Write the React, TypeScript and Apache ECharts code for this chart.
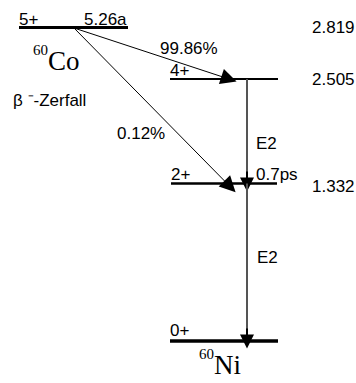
import React, { useEffect, useRef } from "react";
import * as echarts from "echarts";

// ---- data: 60Co -> 60Ni decay scheme ----
const levelSpins = ["5+", "4+", "2+", "0+"];
const levelEnergies = ["2.819", "2.505", "1.332", ""];
const parentHalfLife = "5.26a";
const levelHalfLife = ["", "", "0.7ps", ""];
const betaIntensities = ["99.86%", "0.12%"];
const betaTargets = [1, 2];
const gammaTypes = ["E2", "E2"];
const gammaFrom = [1, 2];
const gammaTo = [2, 3];

// ---- schematic layout (diagram units) ----
const levelY = [27, 79, 183.5, 340.5];
const levelX1 = [19, 170, 171, 170];
const levelX2 = [128, 278, 277, 278];
const levelWidth = [3, 2, 2.5, 3.5];
const betaStart = [74, 28];
const betaTipX = [229, 230];
const betaTipDy = [0, 3];
const gammaX = 247;
const gammaHead = 14;

const SANS = "'Liberation Sans', Arial, Helvetica, sans-serif";
const SERIF = "'Liberation Serif', 'Times New Roman', serif";

export default function App() {
  const ref = useRef<HTMLDivElement>(null);
  useEffect(() => {
    document.body.style.margin = "0";
    const chart = echarts.init(ref.current!, undefined, { renderer: "svg" });

    const levelData = levelY.map((y, i) => ({
      coords: [
        [levelX1[i], y],
        [levelX2[i], y],
      ],
      lineStyle: { width: levelWidth[i], color: "#000", opacity: 1 },
    }));
    const betaData = betaTargets.map((t, i) => ({
      coords: [betaStart, [betaTipX[i], levelY[t] + betaTipDy[i]]],
    }));
    const gammaShaft = gammaFrom.map((f, i) => ({
      coords: [
        [gammaX, levelY[f]],
        [gammaX, levelY[gammaTo[i]] + 1 - gammaHead + 1],
      ],
    }));
    const gammaHeads = gammaTo.map((t) => ({
      coords: [
        [gammaX, levelY[t] + 1 - gammaHead],
        [gammaX, levelY[t] + 1],
      ],
    }));

    const txt = (
      text: string,
      x: number,
      y: number,
      size = 17,
      family = SANS,
      align = "left"
    ) => ({
      type: "text",
      x,
      y,
      silent: true,
      style: {
        text,
        fontSize: size,
        fontFamily: family,
        fill: "#000",
        align,
        verticalAlign: "middle",
      },
    });

    chart.setOption({
      animation: false,
      backgroundColor: "#fff",
      grid: { left: 0, top: 0, width: 356, height: 383 },
      xAxis: { type: "value", min: 0, max: 356, show: false },
      yAxis: { type: "value", min: 0, max: 383, inverse: true, show: false },
      series: [
        {
          type: "lines",
          coordinateSystem: "cartesian2d",
          symbol: ["none", "none"],
          lineStyle: { opacity: 1 },
          data: levelData,
        },
        {
          type: "lines",
          coordinateSystem: "cartesian2d",
          symbol: ["none", "triangle"],
          symbolSize: [8, 16],
          symbolOffset: [0, 8],
          lineStyle: { color: "#000", width: 1, opacity: 1 },
          data: betaData,
        },
        {
          type: "lines",
          coordinateSystem: "cartesian2d",
          symbol: ["none", "triangle"],
          symbolSize: [7, gammaHead],
          symbolOffset: [0, gammaHead / 2],
          lineStyle: { color: "#000", width: 2, opacity: 1 },
          data: gammaHeads,
        },
        {
          type: "lines",
          coordinateSystem: "cartesian2d",
          symbol: ["none", "none"],
          lineStyle: { color: "#555", width: 2, opacity: 1 },
          data: gammaShaft,
        },
      ],
      graphic: [
        txt(levelSpins[0], 19, 19.5),
        txt(parentHalfLife, 84, 19.5),
        txt("60", 33, 50, 15, SERIF),
        txt("Co", 48, 61, 27, SERIF),
        txt("β ⁻-Zerfall", 13, 100),
        txt(betaIntensities[0], 160, 48),
        txt(levelSpins[1], 170, 70),
        txt(levelEnergies[0], 312, 27.5),
        txt(levelEnergies[1], 312, 79.5),
        txt(betaIntensities[1], 117, 133.5),
        txt(gammaTypes[0], 256, 143.5),
        txt(levelSpins[2], 171, 174.5),
        txt(levelHalfLife[2], 256, 174),
        txt(levelEnergies[2], 312, 186),
        txt(gammaTypes[1], 257, 257.5),
        txt(levelSpins[3], 170, 330),
        txt("60", 199, 354, 15, SERIF),
        txt("Ni", 214, 365, 27, SERIF),
      ],
    });
    return () => chart.dispose();
  }, []);
  return <div ref={ref} style={{ width: 356, height: 383 }} />;
}
